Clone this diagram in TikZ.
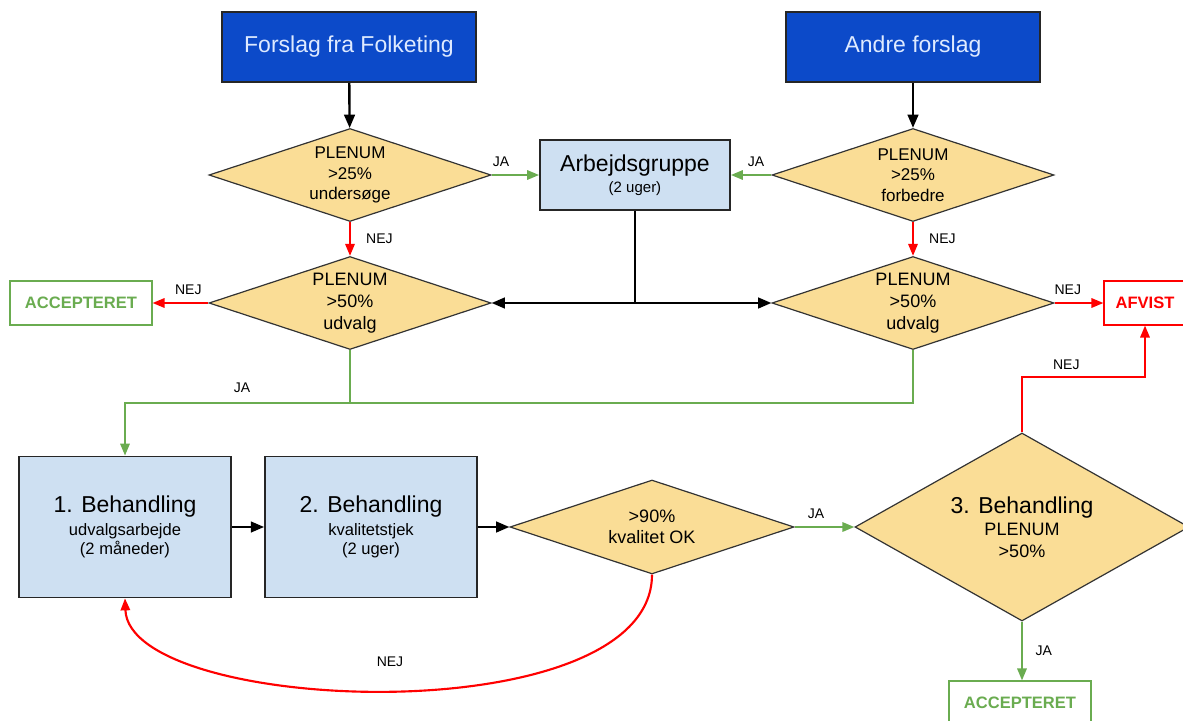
\documentclass[tikz,border=0pt]{standalone}
\usepackage{fontspec}
\setmainfont{Liberation Sans}
\usetikzlibrary{shapes.geometric,arrows.meta}

\definecolor{forslagblue}{RGB}{12,74,201}
\definecolor{forslagtext}{RGB}{222,234,255}
\definecolor{boxblue}{RGB}{206,224,242}
\definecolor{plenumfill}{RGB}{250,221,150}
\definecolor{jagreen}{RGB}{106,172,80}
\definecolor{nejred}{RGB}{255,0,0}

\newcommand{\behfont}{\fontsize{17.25}{20}\selectfont}

\begin{document}
\begin{tikzpicture}[x=0.75pt,y=-0.75pt,
	forslag/.style={draw=black!85,line width=1.5pt,fill=forslagblue,text=forslagtext,minimum width=190.5pt,minimum height=52.5pt,font=\behfont},
	behbox/.style={draw=black!85,line width=1.3pt,fill=boxblue,align=center,font=\fontsize{12.4}{14.5}\selectfont},
	plenum/.style={diamond,aspect=3,draw=black!80,line width=0.9pt,fill=plenumfill,inner sep=0pt,align=center,minimum width=211.5pt,minimum height=69.75pt,font=\fontsize{12.75}{15.5}\selectfont},
	resbox/.style={draw,line width=0.8pt,fill=white,minimum height=33pt,font=\bfseries\fontsize{12.4}{14}\selectfont},
	lbl/.style={font=\fontsize{10.5}{12}\selectfont,text=black},
	blk/.style={-{Triangle[length=10pt,width=8pt]},line width=1.8pt,black},
	grn/.style={-{Triangle[length=9pt,width=7pt]},line width=1.6pt,jagreen},
	red/.style={-{Triangle[length=9pt,width=7pt]},line width=1.6pt,nejred}]
	\useasboundingbox (0,0) rectangle (1183,721);

	% kilder til forslag
	\node [forslag] (folketing) at (349,47) {Forslag fra Folketing};
	\node [forslag] (andre) at (913,47) {Andre forslag};

	% foerste plenum
	\node [plenum] (pl1) at (350,175) {PLENUM\\>25\%\\undersøge};
	\node [plenum] (pr1) at (913,175) {PLENUM\\>25\%\\forbedre};
	\node [behbox,minimum width=142.5pt,minimum height=52.5pt] (arb) at (635,175) {{\behfont Arbejdsgruppe}\\[1pt]{\fontsize{11.25}{13}\selectfont (2 uger)}};

	% andet plenum
	\node [plenum,font=\fontsize{13.5}{16.5}\selectfont] (pl2) at (350,303) {PLENUM\\>50\%\\udvalg};
	\node [plenum,font=\fontsize{13.5}{16.5}\selectfont] (pr2) at (913,303) {PLENUM\\>50\%\\udvalg};
	\node [resbox,draw=jagreen,text=jagreen,minimum width=106.5pt] (acc1) at (81,303) {ACCEPTERET};
	\node [resbox,draw=nejred,text=nejred,minimum width=61.5pt] (afvist) at (1145,303) {AFVIST};

	% behandlinger
	\node [behbox,minimum width=159pt,minimum height=105.75pt] (beh1) at (125,527) {{\behfont 1. Behandling}\\[3pt]udvalgsarbejde\\(2 måneder)};
	\node [behbox,minimum width=159pt,minimum height=105.75pt] (beh2) at (371,527) {{\behfont 2. Behandling}\\[3pt]kvalitetstjek\\(2 uger)};
	\node [plenum,minimum width=213pt,minimum height=70.5pt,font=\fontsize{13.5}{16}\selectfont] (kval) at (652,527) {>90\%\\kvalitet OK};
	\node [plenum,aspect=1.78,minimum width=250.5pt,minimum height=141pt,font=\fontsize{13.5}{16}\selectfont] (beh3) at (1022,527) {{\behfont 3. Behandling}\\[1pt]PLENUM\\>50\%};
	\node [resbox,draw=jagreen,text=jagreen,minimum width=106.5pt] (acc2) at (1020,703) {ACCEPTERET};

	\draw [blk] (folketing) -- (pl1);
	\draw [blk] (andre) -- (pr1);
	\draw [grn] (pl1.east) -- (arb.west) node [lbl,pos=0.2,above=2pt] {JA};
	\draw [grn] (pr1.west) -- (arb.east) node [lbl,pos=0.38,above=2pt] {JA};
	\draw [red] (pl1.south) -- (pl2.north) node [lbl,midway,right=8pt] {NEJ};
	\draw [red] (pr1.south) -- (pr2.north) node [lbl,midway,right=8pt] {NEJ};
	\draw [red] (pl2.west) -- (acc1.east) node [lbl,pos=0.36,above=2pt] {NEJ};
	\draw [red] (pr2.east) -- (afvist.west) node [lbl,pos=0.27,above=2pt] {NEJ};

	% arbejdsgruppe tilbage til plenum
	\coordinate (split) at (arb.south |- pl2.east);
	\draw [line width=1.8pt] (arb.south) -- (split);
	\draw [blk] (split) -- (pl2.east);
	\draw [blk] (split) -- (pr2.west);

	% JA til udvalg
	\coordinate (samle) at (350,403);
	\draw [grn] (pl2.south) -- (samle) -| (beh1.north) node [lbl,pos=0.24,above=4pt] {JA};
	\draw [grn,-] (pr2.south) |- (samle);

	\coordinate (midt) at (0,527);
	\draw [blk] (beh1.east |- midt) -- (beh2.west |- midt);
	\draw [blk] (beh2.east |- midt) -- (kval.west);
	\draw [grn] (kval.east) -- (beh3.west) node [lbl,pos=0.36,above=2pt] {JA};
	\draw [red] (kval.south) .. controls (652,735) and (129,715) .. (beh1.south) node [lbl,pos=0.5,above=14pt] {NEJ};
	\draw [red] (beh3.north) -- ++(0,-55) -| (afvist.south) node [lbl,pos=0.18,above=2pt] {NEJ};
	\draw [grn] (beh3.south) -- (beh3.south |- acc2.north) node [lbl,midway,right=6pt] {JA};
\end{tikzpicture}
\end{document}
